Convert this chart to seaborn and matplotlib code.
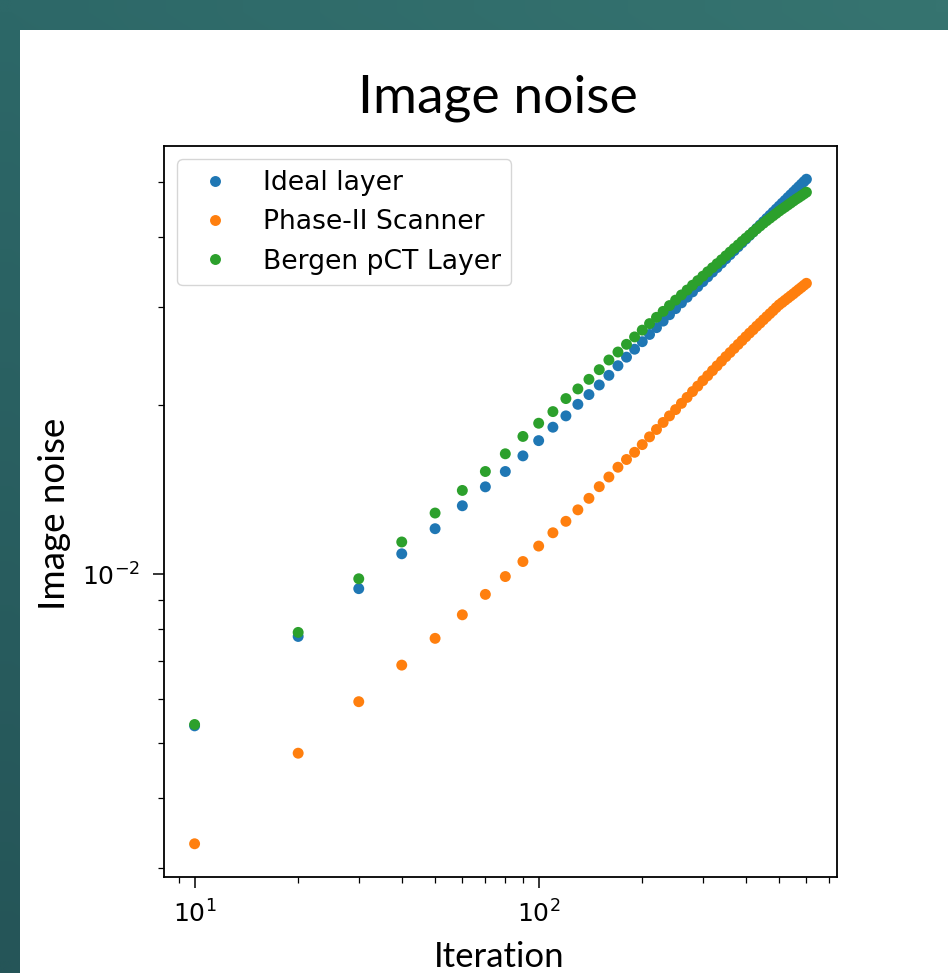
import numpy as np
import pandas as pd
import seaborn as sns
import matplotlib
matplotlib.use("Agg")
import matplotlib.pyplot as plt
from matplotlib.patches import Rectangle

# Values (log-log scatter)
iterations = [10, 20, 30, 40, 50, 60, 70, 80, 90, 100,
              110, 120, 130, 140, 150, 160, 170, 180, 190, 200,
              210, 220, 230, 240, 250, 260, 270, 280, 290, 300,
              310, 320, 330, 340, 350, 360, 370, 380, 390, 400,
              410, 420, 430, 440, 450, 460, 470, 480, 490, 500,
              510, 520, 530, 540, 550, 560, 570, 580, 590, 600]

ideal_layer = [0.00537, 0.00775, 0.00943, 0.01088, 0.01206, 0.01325, 0.01432, 0.01525, 0.01626, 0.01731,
               0.01829, 0.01916, 0.02009, 0.02091, 0.02175, 0.02263, 0.02354, 0.02438, 0.02519, 0.02598,
               0.02676, 0.02752, 0.02827, 0.02902, 0.02975, 0.03047, 0.03118, 0.03187, 0.03256, 0.03323,
               0.03390, 0.03456, 0.03521, 0.03586, 0.03650, 0.03713, 0.03775, 0.03836, 0.03898, 0.03958,
               0.04017, 0.04076, 0.04135, 0.04193, 0.04251, 0.04308, 0.04364, 0.04420, 0.04476, 0.04531,
               0.04586, 0.04639, 0.04694, 0.04747, 0.04800, 0.04853, 0.04905, 0.04957, 0.05009, 0.05060]

phase2_scanner = [0.00331, 0.00480, 0.00593, 0.00689, 0.00769, 0.00847, 0.00921, 0.00991, 0.01054, 0.01123,
                  0.01186, 0.01243, 0.01303, 0.01366, 0.01433, 0.01491, 0.01552, 0.01602, 0.01650, 0.01703,
                  0.01758, 0.01812, 0.01865, 0.01916, 0.01966, 0.02017, 0.02067, 0.02117, 0.02165, 0.02214,
                  0.02260, 0.02307, 0.02353, 0.02398, 0.02443, 0.02485, 0.02527, 0.02569, 0.02610, 0.02651,
                  0.02691, 0.02728, 0.02768, 0.02804, 0.02842, 0.02879, 0.02915, 0.02950, 0.02987, 0.03022,
                  0.03050, 0.03079, 0.03107, 0.03135, 0.03162, 0.03191, 0.03219, 0.03246, 0.03274, 0.03301]

bergen_pct = [0.00540, 0.00788, 0.00982, 0.01142, 0.01286, 0.01411, 0.01525, 0.01640, 0.01761, 0.01859,
              0.01950, 0.02057, 0.02140, 0.02226, 0.02316, 0.02410, 0.02490, 0.02570, 0.02649, 0.02724,
              0.02798, 0.02871, 0.02942, 0.03013, 0.03081, 0.03147, 0.03211, 0.03275, 0.03337, 0.03399,
              0.03461, 0.03519, 0.03578, 0.03636, 0.03695, 0.03753, 0.03809, 0.03864, 0.03920, 0.03973,
              0.04025, 0.04076, 0.04127, 0.04176, 0.04224, 0.04269, 0.04312, 0.04355, 0.04397, 0.04439,
              0.04478, 0.04514, 0.04552, 0.04589, 0.04627, 0.04663, 0.04695, 0.04729, 0.04763, 0.04797]

series_names = ["Ideal layer", "Phase-II Scanner", "Bergen pCT Layer"]
series_colors = ["#1f77b4", "#ff7f0e", "#2ca02c"]

df = pd.DataFrame({
    "Iteration": iterations * 3,
    "Image noise": ideal_layer + phase2_scanner + bergen_pct,
    "Detector": [series_names[0]] * len(iterations)
                + [series_names[1]] * len(iterations)
                + [series_names[2]] * len(iterations),
})

label_font = ["Lato", "DejaVu Sans"]

fig = plt.figure(figsize=(9.48, 9.73), dpi=100)

# slide background: teal frame on top and left, white panel
bg = fig.add_axes([0, 0, 1, 1], zorder=-10)
bg.axis("off")
tl = np.array([45, 104, 104]) / 255
tr = np.array([54, 116, 112]) / 255
bl = np.array([37, 85, 88]) / 255
u = np.linspace(0, 1, 40)[None, :, None]
v = np.linspace(0, 1, 40)[:, None, None]
grad = np.clip(tl + (tr - tl) * u + (bl - tl) * v, 0, 1)
bg.imshow(grad, extent=[0, 1, 0, 1], aspect="auto", interpolation="bilinear", origin="upper")
bg.add_patch(Rectangle((20 / 948, 0), 1, 1 - 30 / 973, transform=bg.transAxes,
                       facecolor="white", edgecolor="none", zorder=2))
bg.set_xlim(0, 1)
bg.set_ylim(0, 1)

ax = fig.add_axes([164 / 948, 1 - 877 / 973, 673 / 948, 731 / 973])
ax.set_xscale("log")
ax.set_yscale("log")

sns.scatterplot(data=df, x="Iteration", y="Image noise", hue="Detector",
                palette=series_colors, s=62, linewidth=0, ax=ax)

sns.move_legend(ax, "upper left", title=None, fontsize=19.2)

ax.set_xlabel("Iteration", fontsize=25, family=label_font, weight="normal", color="black")
ax.set_ylabel("Image noise", fontsize=26.5, family=label_font, weight="normal", color="black")
ax.xaxis.set_label_coords(0.4978, -0.088)
ax.yaxis.set_label_coords(-0.138, 0.497)

ax.tick_params(which="major", length=7.7, width=1.1, labelsize=18, pad=9.5)
ax.tick_params(which="minor", length=4.2, width=0.9)
for sp in ax.spines.values():
    sp.set_linewidth(1.3)

fig.text(0.525, 1 - 113 / 973, "Image noise", ha="center", va="baseline",
         fontsize=38.5, family=label_font, weight="normal", color="black")

fig.savefig("out.png", dpi=100)
